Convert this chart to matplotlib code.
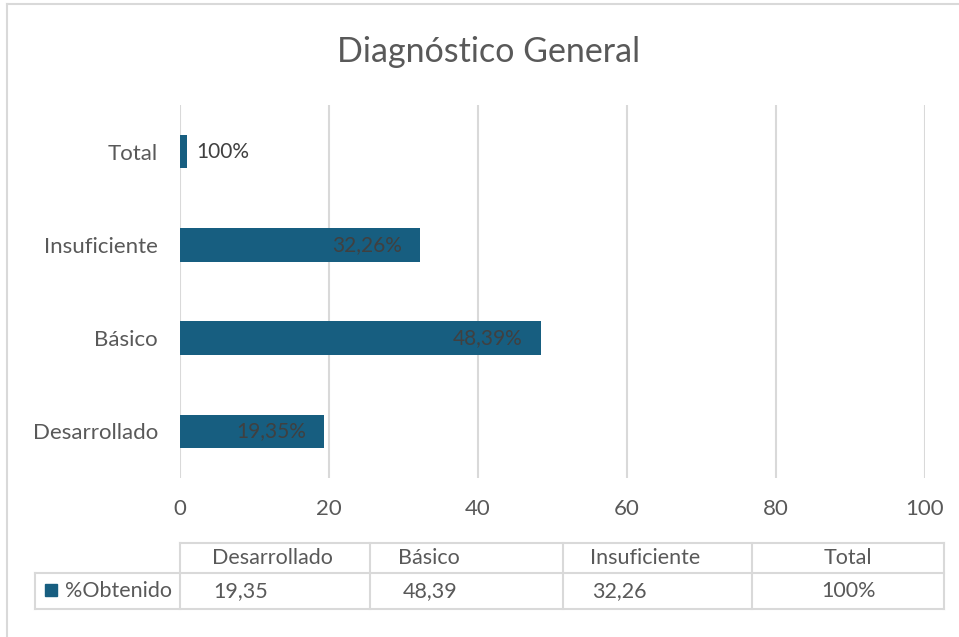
import matplotlib
matplotlib.use("Agg")
import matplotlib.pyplot as plt
from matplotlib.patches import Rectangle

plt.rcParams["font.family"] = ["Lato", "DejaVu Sans"]

# data
categories = ["Desarrollado", "Básico", "Insuficiente", "Total"]
values = [19.35, 48.39, 32.26, 1.0]  # Total = 100% plotted as 1
bar_labels = ["19,35%", "48,39%", "32,26%", "100%"]
table_values = ["19,35", "48,39", "32,26", "100%"]
series_name = "%Obtenido"
title = "Diagnóstico General"
xticks = [0, 20, 40, 60, 80, 100]

BAR = "#175E80"
GRID = "#D9D9D9"
TXT = "#595959"
LBL = "#404040"

W, H = 959, 637
fig = plt.figure(figsize=(W / 100, H / 100), dpi=100)

# overlay in pixel coords for frame, title and data table
ov = fig.add_axes([0, 0, 1, 1])
ov.set_xlim(0, W)
ov.set_ylim(H, 0)
ov.axis("off")
ov.plot([7, 7], [4, H], color=GRID, lw=1.5)
ov.plot([7, W], [4, 4], color=GRID, lw=1.5)
ov.text(489, 52, title, ha="center", va="center", fontsize=24.5, color=TXT)

# main bar axes
x0, x1, ytop, ybot = 180, 925, 105, 478
ax = fig.add_axes([x0 / W, 1 - ybot / H, (x1 - x0) / W, (ybot - ytop) / H])
ypos = list(range(len(categories)))
bars = ax.barh(ypos, values, height=0.36, color=BAR, zorder=3)
ax.set_xlim(0, 100)
ax.set_ylim(-0.5, len(categories) - 0.5)
ax.set_xticks(xticks)
ax.set_yticks(ypos)
ax.set_yticklabels(categories)
ax.tick_params(length=0, labelsize=16, colors=TXT)
ax.tick_params(axis="x", pad=15)
ax.tick_params(axis="y", pad=16)
ax.grid(axis="x", color=GRID, lw=1.5, zorder=0)
for s in ax.spines.values():
    s.set_visible(False)
ax.patch.set_alpha(0)

for i, (b, lab) in enumerate(zip(bars, bar_labels)):
    v = b.get_width()
    yc = b.get_y() + b.get_height() / 2
    if v > 5:
        ax.annotate(lab, (v, yc), xytext=(-13, 0), textcoords="offset points",
                    ha="right", va="center", fontsize=15, color=LBL, zorder=4)
    else:
        ax.annotate(lab, (v, yc), xytext=(6, 0), textcoords="offset points",
                    ha="left", va="center", fontsize=15, color=LBL, zorder=4)

# data table under the chart
col_edges = [180, 370, 563, 752, 944]
r0, r1, r2 = 543, 573, 609
lx = 35
lw = 1.5
ov.plot([col_edges[0], col_edges[-1]], [r0, r0], color=GRID, lw=lw)
ov.plot([lx, col_edges[-1]], [r1, r1], color=GRID, lw=lw)
ov.plot([lx, col_edges[-1]], [r2, r2], color=GRID, lw=lw)
ov.plot([lx, lx], [r1, r2], color=GRID, lw=lw)
for e in col_edges:
    ov.plot([e, e], [r0, r2], color=GRID, lw=lw)

head_x = [212, 398, 590, 848]
val_x = [213, 403, 592, 849]
for j, (cat, tv) in enumerate(zip(categories, table_values)):
    ha = "center" if j == len(categories) - 1 else "left"
    ov.text(head_x[j], (r0 + r1) / 2, cat, ha=ha, va="center", fontsize=15.5, color=TXT)
    ov.text(val_x[j], (r1 + r2) / 2, tv, ha=ha, va="center", fontsize=15.5, color=TXT)
ov.add_patch(Rectangle((45, 584), 12, 12, color=BAR))
ov.text(65, (r1 + r2) / 2, series_name, ha="left", va="center", fontsize=15.5, color=TXT)

fig.savefig("out.png", dpi=100)
